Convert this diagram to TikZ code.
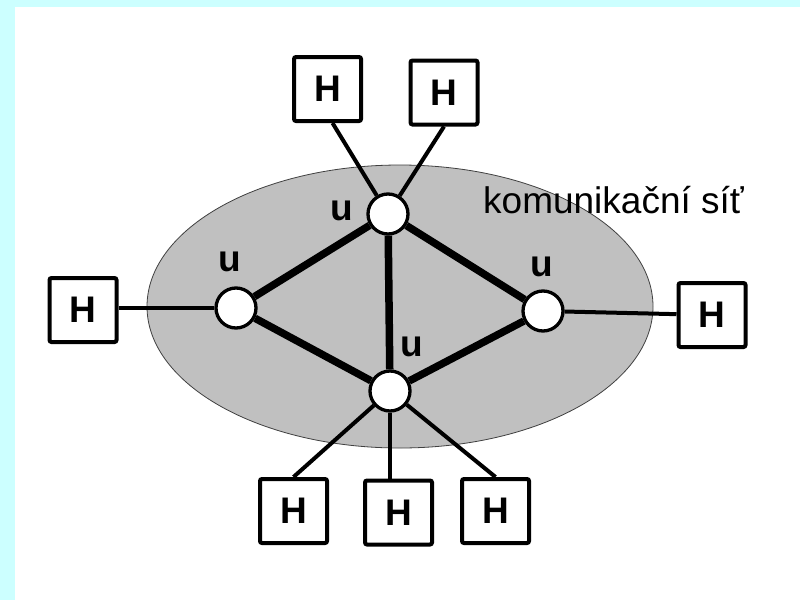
\documentclass[tikz,border=0pt]{standalone}
\usepackage{fontspec}
\setmainfont{Liberation Sans}
\usepackage{tikz}
\usetikzlibrary{calc}
\definecolor{skybg}{HTML}{CCFFFF}
\definecolor{netgray}{HTML}{C0C0C0}

\begin{document}
\begin{tikzpicture}[
  x=1pt, y=-1pt,
  host/.style={draw=black, fill=white, line width=4pt, rounded corners=2pt,
               minimum width=67pt, minimum height=64pt, inner sep=0pt,
               font=\fontsize{37}{40}\selectfont\bfseries},
  router/.style={circle, draw=black, fill=white, line width=3.3pt,
                 minimum size=40pt, inner sep=0pt},
  tag/.style={inner sep=0pt, font=\fontsize{37}{40}\selectfont\bfseries},
  trunk/.style={line width=7.5pt},
  link/.style={line width=4pt}
]
  \useasboundingbox (0,0) rectangle (800,600);

  % Background
  \fill[skybg] (0,0) rectangle (800,600);
  \fill[white] (15,7) rectangle (800,600);

  % Network cloud
  \draw[fill=netgray, draw=black!75, line width=0.8pt]
    (400,306.5) ellipse [x radius=253pt, y radius=141.5pt];
  \node[anchor=base west, inner sep=0pt, font=\fontsize{37}{40}\selectfont]
    (netlabel) at (483,213) {komunikační síť};

  % Routers
  \node[router] (rtop) at (388,214) {};
  \node[router] (rleft) at (236,308) {};
  \node[router] (rright) at (543,311) {};
  \node[router] (rbot) at (390,391) {};

  \node[tag] (utop) at (342,211) {u};
  \node[tag] (uleft) at (230,262) {u};
  \node[tag] (uright) at (542,267) {u};
  \node[tag] (ubot) at (412,347) {u};

  % Hosts
  \node[host] (htopa) at (327.5,89) {H};
  \node[host] (htopb) at (444,92.5) {H};
  \node[host] (hleft) at (83,310) {H};
  \node[host] (hright) at (712,315) {H};
  \node[host] (hbota) at (293.5,511) {H};
  \node[host] (hbotb) at (398.5,512.5) {H};
  \node[host] (hbotc) at (495.5,511) {H};

  % Router to router
  \draw[trunk] (rtop) -- (rleft);
  \draw[trunk] (rtop) -- (rright);
  \draw[trunk] (rtop) -- (rbot);
  \draw[trunk] (rleft) -- (rbot);
  \draw[trunk] (rright) -- (rbot);

  % Hosts to routers
  \draw[link] (rtop) -- ([xshift=5pt]htopa.south);
  \draw[link] (rtop) -- (htopb.south);
  \draw[link] (rleft) -- (rleft -| hleft.east);
  \draw[link] (rright) -- (hright);
  \draw[link] (rbot) -- (hbota.north);
  \draw[link] (rbot) -- (rbot |- hbotb.north);
  \draw[link] (rbot) -- (hbotc.north);
\end{tikzpicture}
\end{document}
